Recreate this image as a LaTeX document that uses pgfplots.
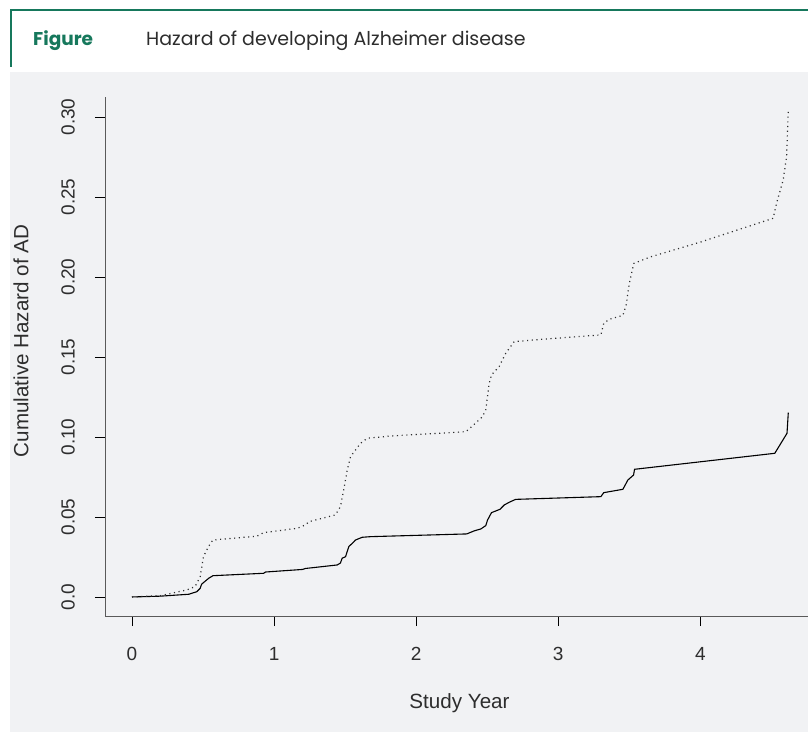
\documentclass[border=0pt]{standalone}
\usepackage{fontspec}
\setmainfont{Liberation Sans}
\newfontfamily\hdr{Poppins}
\usepackage{pgfplots}
\pgfplotsset{compat=1.18}
\definecolor{hgreen}{RGB}{22,120,92}
\definecolor{panel}{RGB}{241,242,244}
\definecolor{txt}{RGB}{45,45,45}
\definecolor{axln}{RGB}{90,90,90}
\begin{document}
\begin{tikzpicture}[x=1pt,y=1pt]
\useasboundingbox (0,0) rectangle (808,732);
\fill[white] (0,0) rectangle (808,732);
\fill[panel] (10,0) rectangle (808,660);
\draw[hgreen, line width=1.6pt] (10,722) -- (808,722);
\draw[hgreen, line width=1.6pt] (10.8,722.8) -- (10.8,665);
\node[anchor=base west, inner sep=0pt, text=hgreen] at (33,686) {\hdr\fontsize{18.5}{20}\selectfont\bfseries Figure};
\node[anchor=base west, inner sep=0pt, text=txt] at (146,686) {\hdr\fontsize{19}{20}\selectfont Hazard of developing Alzheimer disease};
\begin{axis}[
  at={(105pt,116pt)}, anchor=south west,
  scale only axis, width=709pt, height=519pt,
  xmin=-0.19, xmax=4.80, ymin=-0.0119, ymax=0.3125,
  axis x line*=bottom, axis y line*=left,
  axis line style={axln, line width=0.8pt, -},
  tick align=outside, major tick length=10pt,
  tick style={black, line width=0.8pt},
  xtick={0,1,2,3,4}, xticklabels={0,1,2,3,4},
  ytick={0,0.05,0.10,0.15,0.20,0.25,0.30},
  yticklabels={0.0,0.05,0.10,0.15,0.20,0.25,0.30},
  ticklabel style={font=\fontsize{19}{19}\selectfont, text=txt},
  xticklabel style={anchor=north, inner sep=0pt, yshift=-21pt},
  yticklabel style={xshift=-20pt, rotate=90, anchor=south, inner sep=0pt},
  xlabel={Study Year}, ylabel={Cumulative Hazard of AD},
  label style={font=\fontsize{20.6}{21}\selectfont, text=txt},
  xlabel style={at={(axis description cs:0.5,-0.1676)}, anchor=center, inner sep=0pt},
  ylabel style={at={(axis description cs:-0.1185,0.53)}, anchor=center, inner sep=0pt, rotate=0},
  clip=false,
]
\addplot[black, line width=1.1pt, line join=round] coordinates {
(0,0) (0.20,0.0005) (0.40,0.0017) (0.456,0.0033) (0.48,0.0054) (0.49,0.008)
(0.54,0.0117) (0.57,0.0133) (0.926,0.0148) (0.94,0.0156) (1.20,0.0172)
(1.22,0.0178) (1.444,0.0200) (1.467,0.0212) (1.479,0.0242) (1.503,0.0252)
(1.526,0.0315) (1.55,0.0335) (1.573,0.0356) (1.62,0.0373) (1.68,0.0377)
(2.356,0.0394) (2.408,0.0413) (2.455,0.0425) (2.49,0.0446) (2.502,0.048)
(2.53,0.0527) (2.59,0.0548) (2.62,0.0575) (2.655,0.0592) (2.70,0.061)
(3.30,0.0627) (3.32,0.0652) (3.455,0.0673) (3.49,0.0731) (3.53,0.0762)
(3.537,0.0798) (4.524,0.0898) (4.61,0.1023) (4.619,0.1152)
};
\addplot[txt, line width=1.2pt, dash pattern=on 1.1pt off 3.6pt] coordinates {
(0,0) (0.2,0.0008) (0.386,0.0044) (0.444,0.0065) (0.48,0.0127) (0.503,0.0252)
(0.538,0.0315) (0.569,0.0356) (0.88,0.0380) (0.926,0.0402) (1.162,0.0429)
(1.22,0.0450) (1.244,0.0470) (1.432,0.0513) (1.467,0.0565) (1.49,0.0669)
(1.515,0.0794) (1.538,0.0877) (1.608,0.0960) (1.656,0.0992) (1.82,0.1006)
(2.35,0.1033) (2.41,0.1080) (2.467,0.1127) (2.49,0.1170) (2.514,0.1335)
(2.53,0.1388) (2.584,0.1440) (2.63,0.1523) (2.69,0.1596) (2.878,0.1610)
(3.30,0.1638) (3.32,0.1710) (3.36,0.1736) (3.455,0.1760) (3.478,0.1825)
(3.50,0.1960) (3.532,0.2085) (3.654,0.2127) (4.007,0.2220) (4.513,0.2367)
(4.536,0.2460) (4.583,0.2606) (4.607,0.2752) (4.614,0.2919) (4.619,0.3044)
};
\end{axis}
\end{tikzpicture}
\end{document}
